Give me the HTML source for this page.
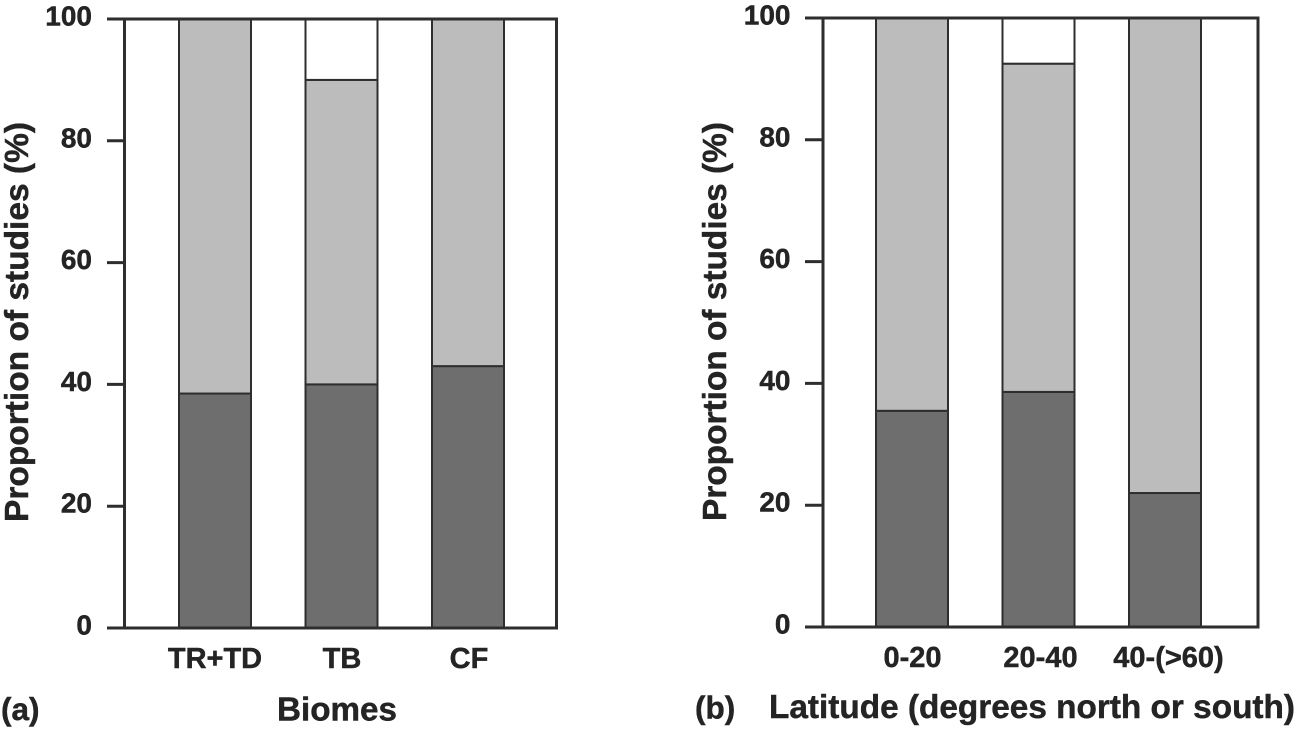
<!DOCTYPE html>
<html>
<head>
<meta charset="utf-8">
<title>Proportion of studies by biome and latitude</title>
<style>
html,body{margin:0;padding:0;background:#fff}
svg{display:block}
text{font-family:"Liberation Sans",Arial,sans-serif;font-weight:bold;fill:#242424;stroke:#242424;stroke-width:.45px}
</style>
</head>
<body>
<svg id="chart" width="1297" height="731" viewBox="0 0 1297 731" xmlns="http://www.w3.org/2000/svg"></svg>
<script>
const yTicks = [0, 20, 40, 60, 80, 100];
const biomeCategories = ["TR+TD", "TB", "CF"];
const biomeDark = [38.5, 40, 43];
const biomeLight = [61.5, 50, 57];
const latitudeCategories = ["0-20", "20-40", "40-(>60)"];
const latitudeDark = [35.5, 38.6, 22];
const latitudeLight = [64.5, 53.9, 78];

const svg = document.getElementById('chart');
const NS = 'http://www.w3.org/2000/svg';

function add(parent, tag, attrs, content) {
  const el = document.createElementNS(NS, tag);
  for (const k in attrs) el.setAttribute(k, attrs[k]);
  if (content !== undefined) el.textContent = content;
  parent.appendChild(el);
  return el;
}

function drawPanel(cfg) {
  const g = add(svg, 'g', {});
  
  
  const y = v => cfg.y0 + (cfg.y100 - cfg.y0) * v / 100;
  const stroke = '#2e2e2e';

  cfg.categories.forEach((cat, i) => {
    const x = cfg.firstBar + i * cfg.barStep;
    const dark = add(g, 'rect', {x: x, y: y(cfg.dark[i]), width: cfg.barWidth, height: y(0) - y(cfg.dark[i]), fill: '#6e6e6e', stroke: stroke, 'stroke-width': 2});
    
    
    const top = cfg.dark[i] + cfg.light[i];
    const light = add(g, 'rect', {x: x, y: y(top), width: cfg.barWidth, height: y(cfg.dark[i]) - y(top), fill: '#bcbcbc', stroke: stroke, 'stroke-width': 2});
    
    
    const rest = add(g, 'rect', {x: x, y: y(100), width: cfg.barWidth, height: y(top) - y(100), fill: '#fff', stroke: stroke, 'stroke-width': 2});
    
    
    const label = add(g, 'text', {x: x + cfg.barWidth / 2 + cfg.labelShift + i * cfg.labelShiftStep, y: cfg.catBaseline, 'text-anchor': 'middle', 'font-size': 29}, cat);
    
    
  });

  yTicks.forEach(t => {
    const tick = add(g, 'line', {x1: cfg.tickStart, x2: (t === 0 || t === 100) ? cfg.right + 1.5 : cfg.left, y1: y(t), y2: y(t), stroke: stroke, 'stroke-width': 3});
    
    
    const label = add(g, 'text', {x: cfg.tickLabelRight, y: y(t) + 6.5, 'text-anchor': 'end', 'font-size': 28}, t);
    
    
  });

  const leftAxis = add(g, 'line', {x1: cfg.left, x2: cfg.left, y1: y(100), y2: y(0), stroke: stroke, 'stroke-width': 3});
  
  
  const rightAxis = add(g, 'line', {x1: cfg.right, x2: cfg.right, y1: y(100), y2: y(0), stroke: stroke, 'stroke-width': 3});
  
  

  const yc = (cfg.yTitleTop + cfg.yTitleBottom) / 2;
  const yTitle = add(g, 'text', {x: 0, y: 0, transform: 'translate(' + cfg.yTitleX + ' ' + yc + ') rotate(-90)', 'text-anchor': 'middle', 'font-size': 33.5, textLength: cfg.yTitleBottom - cfg.yTitleTop, lengthAdjust: 'spacingAndGlyphs'}, 'Proportion of studies (%)');
  
  

  const xTitle = add(g, 'text', {x: cfg.xTitleX, y: cfg.xTitleBaseline, 'font-size': 33, textLength: cfg.xTitleWidth, lengthAdjust: 'spacingAndGlyphs'}, cfg.xTitle);
  
  

  const panelLabel = add(g, 'text', {x: cfg.panelLabelX, y: cfg.panelBaseline, 'font-size': 31.5}, cfg.panelLabel);
  
  
}

drawPanel({
  name: 'panel-a-biomes', categories: biomeCategories, dark: biomeDark, light: biomeLight,
  y0: 628, y100: 19, left: 124.5, right: 556.5, tickStart: 107, tickLabelRight: 92,
  firstBar: 179, barStep: 126.5, barWidth: 72, labelShift: 0, labelShiftStep: 0.5, catBaseline: 668,
  yTitleX: 28, yTitleTop: 122, yTitleBottom: 522,
  xTitle: 'Biomes', xTitleX: 277, xTitleWidth: 120, xTitleBaseline: 720.5,
  panelLabel: '(a)', panelLabelX: 1, panelBaseline: 720
});
drawPanel({
  name: 'panel-b-latitude', categories: latitudeCategories, dark: latitudeDark, light: latitudeLight,
  y0: 627, y100: 18, left: 823, right: 1258, tickStart: 805, tickLabelRight: 790.5,
  firstBar: 876, barStep: 126.5, barWidth: 72, labelShift: 0.5, labelShiftStep: 1.5, catBaseline: 667,
  yTitleX: 726, yTitleTop: 122, yTitleBottom: 521,
  xTitle: 'Latitude (degrees north or south)', xTitleX: 769, xTitleWidth: 526, xTitleBaseline: 718,
  panelLabel: '(b)', panelLabelX: 695, panelBaseline: 718.5
});
</script>
</body>
</html>
